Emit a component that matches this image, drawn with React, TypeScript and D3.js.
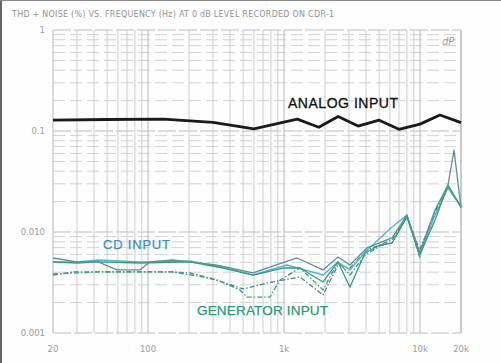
import React, { useEffect } from "react";
import * as d3 from "d3";

const W = 501;
const H = 363;

const titleText = "THD + NOISE (%) VS. FREQUENCY (Hz) AT 0 dB LEVEL  RECORDED ON CDR-1";

const xTicks = [20, 100, 1000, 10000, 20000];
const xTickLabels = ["20", "100", "1k", "10k", "20k"];
const yTicks = [1, 0.1, 0.01, 0.001];
const yTickLabels = ["1", "0.1", "0.010", "0.001"];

const analogFreq = [20, 50, 130, 300, 600, 1250, 1800, 2500, 3500, 5000, 7000, 10000, 14000, 20000];
const analogVal = [0.128, 0.13, 0.131, 0.122, 0.105, 0.131, 0.109, 0.139, 0.112, 0.128, 0.104, 0.117, 0.144, 0.121];

const s1Freq = [20, 30, 43, 59, 87, 103, 152, 321, 591, 1245, 1935, 2490, 3050, 4070, 6220, 8010, 9930, 12880, 16040, 17780, 20000];
const s1Val = [0.00553, 0.00505, 0.00505, 0.00421, 0.00421, 0.00505, 0.00528, 0.00471, 0.00393, 0.00553, 0.00421, 0.00565, 0.00471, 0.00695, 0.00873, 0.0147, 0.00619, 0.0165, 0.0292, 0.0648, 0.0173];

const s2Freq = [20, 30, 43, 87, 203, 356, 591, 1050, 1935, 2490, 3050, 4070, 6220, 8010, 9930, 12880, 16040, 20000];
const s2Val = [0.00505, 0.00505, 0.00528, 0.00505, 0.00516, 0.0045, 0.00375, 0.00471, 0.00375, 0.00505, 0.00421, 0.00663, 0.0112, 0.0147, 0.00593, 0.0147, 0.0273, 0.0177];

const s3Freq = [20, 30, 43, 87, 203, 356, 591, 982, 1310, 1935, 2490, 3050, 3940, 5070, 6220, 8010, 9930, 12880, 16040, 20000];
const s3Val = [0.00505, 0.00493, 0.00505, 0.00493, 0.00505, 0.0044, 0.00375, 0.0044, 0.0044, 0.0032, 0.00505, 0.00285, 0.00619, 0.00743, 0.00778, 0.0141, 0.00593, 0.0131, 0.0292, 0.0177];

const s4Freq = [20, 28, 43, 152, 203, 285, 500, 750, 1310, 1935, 2490, 3050, 4070, 6220, 8010, 9930, 12880, 16040, 20000];
const s4Val = [0.00375, 0.00402, 0.00402, 0.00402, 0.00393, 0.00351, 0.00273, 0.00313, 0.00358, 0.00238, 0.00471, 0.0044, 0.00663, 0.00834, 0.0141, 0.00663, 0.0158, 0.0279, 0.0177];

const s5Freq = [20, 30, 43, 152, 229, 321, 474, 533, 788, 934, 1310, 1935, 2490, 3050, 3940, 5070, 6220, 8010, 9930, 12880, 16040, 20000];
const s5Val = [0.00384, 0.00393, 0.00402, 0.00402, 0.00367, 0.00335, 0.00267, 0.00227, 0.00227, 0.00335, 0.0044, 0.00267, 0.00505, 0.00375, 0.00593, 0.00727, 0.00778, 0.0144, 0.00565, 0.0158, 0.0285, 0.0177];

const x = d3.scaleLog().domain([20, 20000]).range([53, 461]);
const y = d3.scaleLog().domain([0.001, 1]).range([333, 30]);

type Pt = [number, number];
const zip = (f: number[], v: number[]): Pt[] => f.map((ff, i) => [ff, v[i]] as Pt);
const line = d3
  .line<Pt>()
  .x((d) => x(d[0]))
  .y((d) => y(d[1]));

const minorX: number[] = [];
for (let dec = 10; dec <= 10000; dec *= 10) {
  for (let k = 1; k <= 9; k++) {
    const f = k * dec;
    if (f >= 20 && f <= 20000) minorX.push(f);
  }
}
minorX.push(20000);
const minorY: number[] = [];
for (let dec = 0.001; dec < 1; dec *= 10) {
  for (let k = 1; k <= 9; k++) minorY.push(+(k * dec).toPrecision(3));
}
minorY.push(1);

const isMajor = (v: number) => Math.abs(Math.log10(v) - Math.round(Math.log10(v))) < 1e-6;

export default function App() {
  useEffect(() => {
    document.body.style.margin = "0";
  }, []);
  const series = [
    { d: zip(s4Freq, s4Val), c: "#557f97", w: 1.3, dash: "5 2 1.5 2" },
    { d: zip(s5Freq, s5Val), c: "#3a9e7c", w: 1.3, dash: "5 2 1.5 2" },
    { d: zip(s2Freq, s2Val), c: "#58b4cc", w: 1.4, dash: undefined },
    { d: zip(s3Freq, s3Val), c: "#2f9d78", w: 1.3, dash: undefined },
    { d: zip(s1Freq, s1Val), c: "#5f8f92", w: 1.3, dash: undefined },
  ];
  return (
    <svg
      width={W}
      height={H}
      style={{ position: "absolute", left: 0, top: 0, background: "#fefefe" }}
      fontFamily="'DejaVu Sans', sans-serif"
    >
      <rect x={0} y={0} width={W} height={H} fill="#fefefe" />
      <line x1={1} y1={0} x2={1} y2={H} stroke="#666" strokeWidth={2} />
      <line x1={0} y1={0.5} x2={W} y2={0.5} stroke="#888" strokeWidth={1} />
      <text x={12} y={17} fontSize={8} fill="#929292" textLength={322} lengthAdjust="spacing">
        {titleText}
      </text>
      {minorY.map((v, i) => (
        <line
          key={"hy" + i}
          x1={53}
          x2={461}
          y1={y(v)}
          y2={y(v)}
          stroke={isMajor(v) ? "#bcbcbc" : "#d2d2d2"}
          strokeWidth={1}
          strokeDasharray={isMajor(v) ? "18 3" : "12 5"}
        />
      ))}
      {minorX.map((f, i) => (
        <line
          key={"vx" + i}
          x1={x(f)}
          x2={x(f)}
          y1={30}
          y2={333}
          stroke={isMajor(f) || f === 20 || f === 20000 ? "#b8b8b8" : "#cdcdcd"}
          strokeWidth={1}
        />
      ))}
      {yTicks.map((v, i) => (
        <text key={"yt" + i} x={45} y={y(v) + 3} fontSize={8.5} fill="#9a9a9a" textAnchor="end">
          {yTickLabels[i]}
        </text>
      ))}
      {xTicks.map((f, i) => (
        <text key={"xt" + i} x={x(f)} y={352} fontSize={8.5} fill="#9a9a9a" textAnchor="middle">
          {xTickLabels[i]}
        </text>
      ))}
      <text x={442} y={45} fontSize={10} fill="#a0a0a0" fontStyle="italic">
        dP
      </text>
      <path d={line(zip(analogFreq, analogVal)) || ""} fill="none" stroke="#1a1a1a" strokeWidth={2.8} strokeLinejoin="round" />
      {series.map((s, i) => (
        <path
          key={"s" + i}
          d={line(s.d) || ""}
          fill="none"
          stroke={s.c}
          strokeWidth={s.w}
          strokeDasharray={s.dash}
          strokeLinejoin="round"
        />
      ))}
      <text x={288} y={108} fontSize={14} fill="#111" stroke="#111" strokeWidth={0.3} fontFamily="'Liberation Sans', Arial, sans-serif" textLength={110} lengthAdjust="spacing">
        ANALOG INPUT
      </text>
      <text x={103} y={249} fontSize={13} fill="#3d8fc0" stroke="#3d8fc0" strokeWidth={0.25} fontFamily="'Liberation Sans', Arial, sans-serif" textLength={67} lengthAdjust="spacing">
        CD INPUT
      </text>
      <text x={197} y={315} fontSize={13.5} fill="#2a9a74" stroke="#2a9a74" strokeWidth={0.25} fontFamily="'Liberation Sans', Arial, sans-serif" textLength={131} lengthAdjust="spacing">
        GENERATOR INPUT
      </text>
    </svg>
  );
}
